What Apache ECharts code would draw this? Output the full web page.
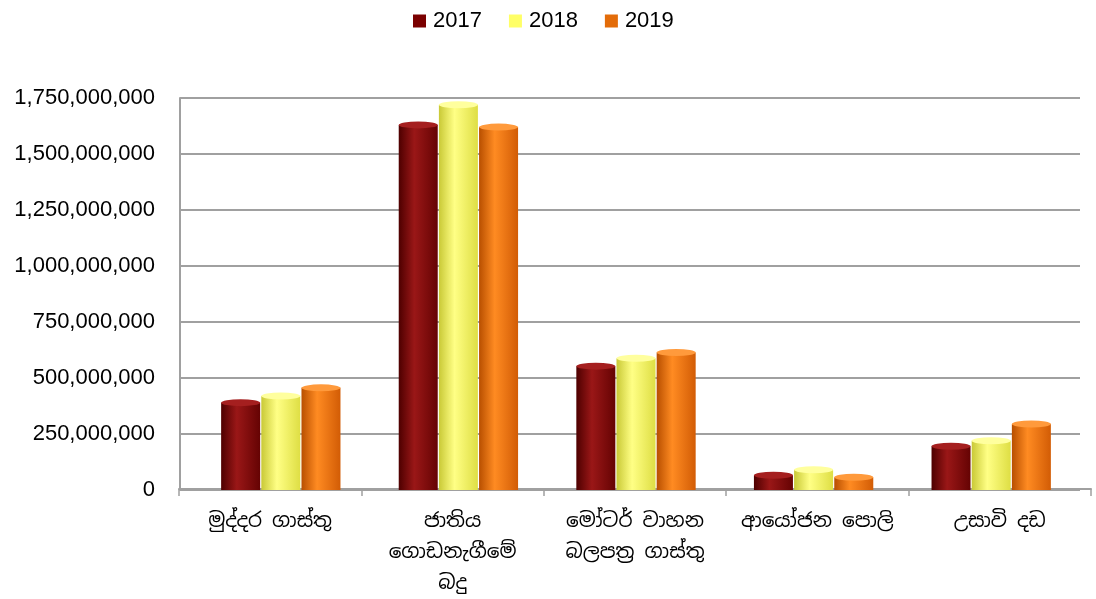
<!DOCTYPE html>
<html>
<head>
<meta charset="utf-8">
<script src="https://cdn.jsdelivr.net/npm/echarts@6/dist/echarts.min.js"></script>
<style>html,body{margin:0;padding:0;background:#fff}#c{width:1096px;height:599px}</style>
</head>
<body>
<div id="c"></div>
<script>
var categories = ['මුද්දර ගාස්තු', 'ජාතිය\nගොඩනැගීමේ\nබදු', 'මෝටර් වාහන\nබලපත්‍ර ගාස්තු', 'ආයෝජන පොලි', 'උසාවි දඩ'];
var years = ['2017', '2018', '2019'];
var values2017 = [390000000, 1630000000, 553000000, 66000000, 195000000];
var values2018 = [420000000, 1720000000, 588000000, 90000000, 220000000];
var values2019 = [456000000, 1620000000, 614000000, 57000000, 295000000];
var yTicks = [0, 250000000, 500000000, 750000000, 1000000000, 1250000000, 1500000000, 1750000000];

var seriesData = [values2017, values2018, values2019];
var legendColors = ['#7b0000', '#ffff66', '#e36c09'];
var sideStops = [
  ['#4e0000', '#9a1717', '#650303'],
  ['#c9c936', '#ffff85', '#dede44'],
  ['#b84f00', '#ff8b22', '#d25c05']
];
var topColors = ['#a51f1f', '#ffff9e', '#ff9a3c'];

function grad(s) {
  return new echarts.graphic.LinearGradient(0, 0, 1, 0, [
    {offset: 0, color: s[0]}, {offset: 0.4, color: s[1]}, {offset: 1, color: s[2]}
  ]);
}

var series = [];
years.forEach(function (y, i) {
  series.push({
    name: y, type: 'bar', data: seriesData[i],
    barWidth: 39, barGap: '3%',
    itemStyle: {color: grad(sideStops[i])},
    color: legendColors[i]
  });
});
years.forEach(function (y, i) {
  series.push({
    name: y + ' top', type: 'pictorialBar', data: seriesData[i],
    symbol: 'circle', symbolSize: [39, 7], symbolPosition: 'end', symbolOffset: [0, '-50%'],
    barWidth: 39, barGap: '3%', z: 3,
    itemStyle: {color: topColors[i]}
  });
});

var chart = echarts.init(document.getElementById('c'));
chart.setOption({
  animation: false,
  backgroundColor: '#fff',
  textStyle: {fontFamily: 'Liberation Sans'},
  legend: {
    data: years.map(function (y, i) { return {name: y, itemStyle: {color: legendColors[i]}}; }),
    top: 5, left: 408, icon: 'rect', itemWidth: 13, itemHeight: 13, itemGap: 27,
    textStyle: {fontSize: 22, color: '#000', fontFamily: 'Liberation Sans', padding: [0, 0, 0, 2]}
  },
  grid: [
    {left: 192, right: 16, top: 98, bottom: 109, containLabel: false},
    {left: 179, right: 5, top: 98, bottom: 108, containLabel: false}
  ],
  xAxis: [
    {
      type: 'category', data: categories, gridIndex: 0,
      axisLine: {show: false}, axisTick: {show: false}, axisLabel: {show: false}
    },
    {
      type: 'category', data: categories, gridIndex: 1,
      axisLine: {lineStyle: {color: '#a0a0a0', width: 2}},
      axisTick: {show: true, length: 7, lineStyle: {color: '#a0a0a0', width: 1.5}},
      axisLabel: {
        fontSize: 20, color: '#000', margin: 17, lineHeight: 31, interval: 0,
        fontFamily: 'Noto Sans Sinhala, Noto Sans, sans-serif'
      }
    }
  ],
  yAxis: [
    {
      type: 'value', gridIndex: 0, min: 0, max: 1750000000, interval: 250000000, offset: 12,
      axisLine: {show: true, lineStyle: {color: '#a0a0a0', width: 2}},
      axisTick: {show: true, inside: true, length: 12, lineStyle: {color: '#a0a0a0', width: 2}},
      splitLine: {lineStyle: {color: '#a0a0a0', width: 2}},
      axisLabel: {
        fontSize: 22, color: '#000', margin: 25, fontFamily: 'Liberation Sans',
        formatter: function (v) { return yTicks.indexOf(v) >= 0 ? v.toLocaleString('en-US') : ''; }
      }
    },
    {
      type: 'value', gridIndex: 1, min: 0, max: 1750000000, show: false
    }
  ],
  series: series
});
</script>
</body>
</html>
